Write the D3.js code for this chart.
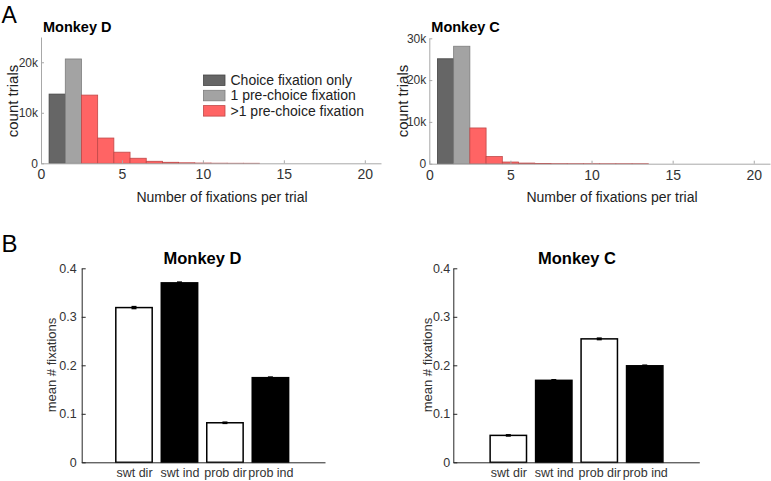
<!DOCTYPE html>
<html><head><meta charset="utf-8">
<script src="https://cdn.jsdelivr.net/npm/d3@7"></script>
<style>
html,body{margin:0;padding:0;background:#fff;}
svg{display:block;font-family:"Liberation Sans",Arial,Helvetica,sans-serif;}
</style></head>
<body>
<svg id="chart" width="771" height="481"></svg>
<script>
// ---------- data ----------
const fixBins = [1,2,3,4,5,6,7,8,9,10,11,12,13];
const countsD = [13700,20650,13500,5000,2200,1000,400,200,100,50,20,8,3];
const countsC = [25100,28100,8550,1700,400,150,50,20,10,5,3,2,1];
const histXTicks = [0,5,10,15,20];
const histYTicksD = [0,10000,20000];
const histYTicksC = [0,10000,20000,30000];
const legendLabels = ["Choice fixation only","1 pre-choice fixation",">1 pre-choice fixation"];

const condCats = ["swt dir","swt ind","prob dir","prob ind"];
const meanD = [0.319,0.370,0.0815,0.1745];
const errD  = [0.002,0.0015,0.0012,0.0012];
const meanC = [0.0555,0.169,0.2545,0.1990];
const errC  = [0.0012,0.0012,0.0015,0.0012];
const barYTicks = [0,0.1,0.2,0.3,0.4];

// ---------- styles ----------
const histFill = ["#666666","#a3a3a3","#ff6464"];
const histStroke = ["#454545","#7d7d7d","#c04848"];
const condFill = ["#ffffff","#000000","#ffffff","#000000"];
const svg = d3.select("#chart");

function histClass(b){ return b===1?0:(b===2?1:2); }
function kfmt(d){ return d===0?"0":(d/1000)+"k"; }

function histPanel(o){
  const g = svg.append("g");
  const x = d3.scaleLinear().domain([0,21]).range([o.x0,o.x1]);
  const y = d3.scaleLinear().domain([0,o.ymax]).range([o.y0,o.y1]);
  g.selectAll("rect.bar").data(fixBins.map((b,i)=>({b,v:o.counts[i]})))
    .join("rect").attr("class","bar")
    .attr("x",d=>x(d.b-0.5)).attr("width",d=>x(d.b+0.5)-x(d.b-0.5))
    .attr("y",d=>y(d.v)).attr("height",d=>y(0)-y(d.v))
    .attr("fill",d=>histFill[histClass(d.b)])
    .attr("stroke",d=>histStroke[histClass(d.b)]).attr("stroke-width",0.8);
  const xa = g.append("g").attr("transform",`translate(0,${o.y0})`)
    .call(d3.axisBottom(x).tickValues(histXTicks).tickSizeInner(-3).tickSizeOuter(0).tickPadding(6));
  const ya = g.append("g").attr("transform",`translate(${o.x0},0)`)
    .call(d3.axisLeft(y).tickValues(o.yticks).tickFormat(kfmt).tickSizeInner(-3).tickSizeOuter(0).tickPadding(3));
  [xa,ya].forEach(a=>{
    a.select(".domain").attr("stroke","#a8a8a8");
    a.selectAll(".tick line").attr("stroke","#a8a8a8");
    a.selectAll(".tick text").attr("fill","#333").attr("font-family","inherit");
  });
  xa.selectAll(".tick text").attr("font-size",14);
  ya.selectAll(".tick text").attr("font-size",12);
  g.append("text").attr("x",o.x0+2).attr("y",31.7).attr("font-size",14.5).attr("font-weight","bold")
    .attr("fill","#000").text(o.title);
  g.append("text").attr("x",o.xlabX).attr("y",202).attr("text-anchor","middle")
    .attr("font-size",14).attr("fill","#222").text("Number of fixations per trial");
  g.append("text").attr("transform",`translate(${o.ylabX},101) rotate(-90)`).attr("text-anchor","middle")
    .attr("font-size",15).attr("fill","#222").text("count trials");
}

histPanel({x0:41,x1:381,y0:163.3,y1:37,ymax:25000,counts:countsD,yticks:histYTicksD,
  title:"Monkey D",xlabX:222,ylabX:18});
histPanel({x0:429.3,x1:770,y0:163.7,y1:38.3,ymax:30000,counts:countsC,yticks:histYTicksC,
  title:"Monkey C",xlabX:612,ylabX:408});

const leg = svg.append("g");
legendLabels.forEach((t,i)=>{
  const yy = 75 + i*15.3;
  leg.append("rect").attr("x",203.5).attr("y",yy).attr("width",21.5).attr("height",10.5)
    .attr("fill",histFill[i]).attr("stroke",histStroke[i]).attr("stroke-width",0.8);
  leg.append("text").attr("x",230.5).attr("y",yy+10).attr("font-size",14).attr("fill","#222").text(t);
});

function barPanel(o){
  const g = svg.append("g");
  const x = d3.scaleLinear().domain([o.d0,5.2]).range([o.x0,o.x1]);
  const y = d3.scaleLinear().domain([0,0.4]).range([462.3,268.3]);
  const data = condCats.map((c,i)=>({c,i,v:o.means[i],e:o.errs[i]}));
  g.selectAll("rect.bar").data(data).join("rect").attr("class","bar")
    .attr("x",d=>x(d.i+1-0.4)).attr("width",d=>x(d.i+1.4)-x(d.i+0.6))
    .attr("y",d=>y(d.v)).attr("height",d=>y(0)-y(d.v))
    .attr("fill",d=>condFill[d.i]).attr("stroke","#000").attr("stroke-width",1.5);
  const eb = g.selectAll("g.err").data(data).join("g").attr("class","err");
  eb.append("line").attr("x1",d=>x(d.i+1)).attr("x2",d=>x(d.i+1))
    .attr("y1",d=>y(d.v-d.e)).attr("y2",d=>y(d.v+d.e)).attr("stroke","#000").attr("stroke-width",2);
  eb.append("line").attr("x1",d=>x(d.i+1)-2.5).attr("x2",d=>x(d.i+1)+2.5)
    .attr("y1",d=>y(d.v+d.e)).attr("y2",d=>y(d.v+d.e)).attr("stroke","#000").attr("stroke-width",1.5);
  eb.append("line").attr("x1",d=>x(d.i+1)-2.5).attr("x2",d=>x(d.i+1)+2.5)
    .attr("y1",d=>y(d.v-d.e)).attr("y2",d=>y(d.v-d.e)).attr("stroke","#000").attr("stroke-width",1.5);
  const xa = g.append("g").attr("transform",`translate(0,${y(0)})`)
    .call(d3.axisBottom(x).tickValues([1,2,3,4]).tickFormat(d=>condCats[d-1]).tickSizeInner(0).tickSizeOuter(0).tickPadding(6));
  const ya = g.append("g").attr("transform",`translate(${o.x0},0)`)
    .call(d3.axisLeft(y).tickValues(barYTicks).tickFormat(d=>d===0?"0":d3.format(".1f")(d)).tickSizeInner(-4).tickSizeOuter(0).tickPadding(o.tp));
  [xa,ya].forEach(a=>{
    a.select(".domain").attr("stroke","#262626");
    a.selectAll(".tick line").attr("stroke","#262626");
    a.selectAll(".tick text").attr("fill","#333").attr("font-family","inherit").attr("font-size",12.5);
  });
  g.append("text").attr("x",o.titleX).attr("y",264.3).attr("text-anchor","middle")
    .attr("font-size",16.5).attr("font-weight","bold").attr("fill","#000").text(o.title);
  g.append("text").attr("transform",`translate(${o.ylabX},365) rotate(-90)`).attr("text-anchor","middle")
    .attr("font-size",13).attr("fill","#333").text("mean # fixations");
}

barPanel({x0:81.7,x1:325,d0:-0.15,means:meanD,errs:errD,title:"Monkey D",titleX:202.5,ylabX:56,tp:5});
barPanel({x0:453.3,x1:699.3,d0:-0.21,means:meanC,errs:errC,title:"Monkey C",titleX:577,ylabX:431.5,tp:3});

svg.append("text").attr("x",1.5).attr("y",22.5).attr("font-size",23).attr("fill","#000").text("A");
svg.append("text").attr("x",1.5).attr("y",251.5).attr("font-size",24).attr("fill","#000").text("B");
</script>
</body></html>
